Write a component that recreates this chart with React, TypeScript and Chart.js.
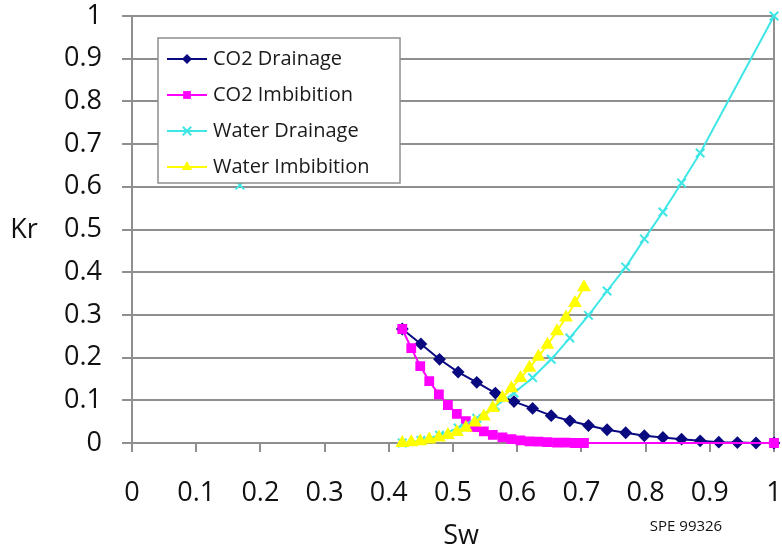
import React, { useEffect, useRef } from 'react';
import { Chart, registerables } from 'chart.js';

Chart.register(...registerables);

// ---- data ----
const drainageSw = [0.421, 0.45, 0.479, 0.508, 0.537, 0.566, 0.595, 0.624, 0.653, 0.682, 0.711, 0.74, 0.769, 0.798, 0.827, 0.856, 0.885, 0.914, 0.943, 0.972, 1.0];
const co2DrainageKr = [0.267, 0.232, 0.196, 0.166, 0.142, 0.117, 0.097, 0.081, 0.064, 0.052, 0.041, 0.031, 0.024, 0.017, 0.013, 0.009, 0.005, 0.002, 0.001, 0.0, 0.0];

const waterDrainageSw = [0.421, 0.45, 0.479, 0.508, 0.537, 0.566, 0.595, 0.624, 0.653, 0.682, 0.711, 0.74, 0.769, 0.798, 0.827, 0.856, 0.885, 1.0];
const waterDrainageKr = [0.0, 0.006, 0.018, 0.035, 0.058, 0.086, 0.117, 0.153, 0.196, 0.246, 0.299, 0.356, 0.412, 0.478, 0.541, 0.609, 0.679, 1.0];

const imbibitionSw = [0.421, 0.435, 0.449, 0.463, 0.478, 0.492, 0.506, 0.52, 0.534, 0.548, 0.562, 0.577, 0.591, 0.605, 0.619, 0.633, 0.647, 0.662, 0.676, 0.69, 0.704];
const co2ImbibitionKr = [0.267, 0.222, 0.18, 0.145, 0.114, 0.089, 0.068, 0.051, 0.037, 0.027, 0.019, 0.013, 0.009, 0.006, 0.004, 0.003, 0.002, 0.001, 0.001, 0.0, 0.0];
const co2ImbibitionEndSw = [1.0];
const co2ImbibitionEndKr = [0.0];
const waterImbibitionKr = [0.0, 0.002, 0.004, 0.008, 0.013, 0.019, 0.026, 0.036, 0.048, 0.062, 0.082, 0.106, 0.128, 0.152, 0.176, 0.202, 0.23, 0.262, 0.294, 0.328, 0.365];

const strayWaterSw = [0.168];
const strayWaterKr = [0.604];

const seriesLabels = ['CO2 Drainage', 'CO2 Imbibition', 'Water Drainage', 'Water Imbibition'];
const xTitle = 'Sw';
const yTitle = 'Kr';
const sourceNote = 'SPE 99326';

// ---- styles ----
const FONT = "'Open Sans', sans-serif";
const NAVY = '#0a0a80';
const MAGENTA = '#ff00ff';
const CYAN = '#3ee6e6';
const YELLOW = '#ffff00';
const GRID = '#8f8f8f';

const pts = (xs: number[], ys: number[]) => xs.map((x, i) => ({ x, y: ys[i] }));
const fmt = (v: any) => String(Number(Number(v).toFixed(1)));

function drawMarker(ctx: CanvasRenderingContext2D, style: string, x: number, y: number, r: number, color: string) {
  ctx.save();
  ctx.fillStyle = color;
  ctx.strokeStyle = color;
  ctx.lineWidth = 2;
  ctx.beginPath();
  if (style === 'rectRot') {
    ctx.moveTo(x, y - r); ctx.lineTo(x + r, y); ctx.lineTo(x, y + r); ctx.lineTo(x - r, y); ctx.closePath(); ctx.fill();
  } else if (style === 'rect') {
    const s = r * Math.SQRT1_2;
    ctx.rect(x - s, y - s, 2 * s, 2 * s); ctx.fill();
  } else if (style === 'triangle') {
    ctx.moveTo(x, y - r); ctx.lineTo(x + r * 0.866, y + r * 0.5); ctx.lineTo(x - r * 0.866, y + r * 0.5); ctx.closePath(); ctx.fill();
  } else if (style === 'crossRot') {
    const d = r * Math.SQRT1_2;
    ctx.moveTo(x - d, y - d); ctx.lineTo(x + d, y + d); ctx.moveTo(x + d, y - d); ctx.lineTo(x - d, y + d); ctx.stroke();
  }
  ctx.restore();
}

const decorPlugin = {
  id: 'decor',
  beforeDatasetsDraw(chart: any) {
    const { ctx, chartArea } = chart;
    ctx.save();
    ctx.strokeStyle = GRID;
    ctx.lineWidth = 2;
    ctx.beginPath();
    ctx.moveTo(chartArea.right, chartArea.top);
    ctx.lineTo(chartArea.right, chartArea.bottom);
    ctx.stroke();
    ctx.restore();
  },
  afterDraw(chart: any) {
    const { ctx } = chart;
    ctx.save();
    ctx.fillStyle = '#111';
    ctx.textAlign = 'center';
    ctx.textBaseline = 'middle';
    ctx.font = `27px ${FONT}`;
    ctx.fillText(yTitle, 24, 230);
    ctx.fillText(xTitle, 461, 536);
    ctx.font = `15px ${FONT}`;
    ctx.fillText(sourceNote, 686, 527);

    // legend
    const lx = 158, ly = 38, lw = 242, lh = 145;
    ctx.fillStyle = '#ffffff';
    ctx.fillRect(lx, ly, lw, lh);
    ctx.strokeStyle = GRID;
    ctx.lineWidth = 1.5;
    ctx.strokeRect(lx, ly, lw, lh);
    const ds = chart.data.datasets.slice(0, 4);
    ds.forEach((d: any, i: number) => {
      const y = ly + 21 + i * 36;
      ctx.strokeStyle = d.borderColor;
      ctx.lineWidth = 2;
      ctx.beginPath();
      ctx.moveTo(lx + 9, y);
      ctx.lineTo(lx + 49, y);
      ctx.stroke();
      drawMarker(ctx, d.pointStyle, lx + 29, y, d.pointRadius, d.pointBackgroundColor);
      ctx.fillStyle = '#1a1a1a';
      ctx.textAlign = 'left';
      ctx.textBaseline = 'middle';
      ctx.font = `20px ${FONT}`;
      ctx.fillText(d.label, lx + 55, y);
    });
    ctx.restore();
  },
};

export default function App() {
  const canvasRef = useRef<HTMLCanvasElement | null>(null);

  useEffect(() => {
    document.body.style.margin = '0';
    const canvas = canvasRef.current;
    if (!canvas) return;
    const common = { showLine: true, borderWidth: 2, clip: false as any, pointBorderWidth: 2 };
    const chart = new Chart(canvas, {
      type: 'scatter',
      data: {
        datasets: [
          {
            ...common,
            label: seriesLabels[0],
            data: pts(drainageSw, co2DrainageKr),
            borderColor: NAVY,
            backgroundColor: NAVY,
            pointBackgroundColor: NAVY,
            pointBorderColor: NAVY,
            pointStyle: 'rectRot',
            pointRadius: 5,
            order: 4,
          },
          {
            ...common,
            label: seriesLabels[1],
            data: [...pts(imbibitionSw, co2ImbibitionKr), ...pts(co2ImbibitionEndSw, co2ImbibitionEndKr)],
            borderColor: MAGENTA,
            backgroundColor: MAGENTA,
            pointBackgroundColor: MAGENTA,
            pointBorderColor: MAGENTA,
            pointStyle: 'rect',
            pointRadius: 5.5,
            order: 3,
          },
          {
            ...common,
            label: seriesLabels[2],
            data: pts(waterDrainageSw, waterDrainageKr),
            borderColor: CYAN,
            backgroundColor: CYAN,
            pointBackgroundColor: CYAN,
            pointBorderColor: CYAN,
            pointStyle: 'crossRot',
            pointRadius: 6,
            order: 2,
          },
          {
            ...common,
            label: seriesLabels[3],
            data: pts(imbibitionSw, waterImbibitionKr),
            borderColor: YELLOW,
            backgroundColor: YELLOW,
            pointBackgroundColor: YELLOW,
            pointBorderColor: YELLOW,
            pointStyle: 'triangle',
            pointRadius: 6,
            order: 1,
          },
          {
            label: 'stray',
            data: pts(strayWaterSw, strayWaterKr),
            showLine: false,
            borderColor: CYAN,
            backgroundColor: CYAN,
            pointBorderColor: CYAN,
            pointStyle: 'crossRot',
            pointRadius: 6,
            pointBorderWidth: 2,
            order: 5,
          },
        ],
      },
      options: {
        animation: false,
        responsive: false,
        maintainAspectRatio: false,
        layout: { padding: { left: 0, right: 7, top: 16, bottom: 0 } },
        plugins: {
          legend: { display: false },
          tooltip: { enabled: false },
        },
        scales: {
          x: {
            type: 'linear',
            min: 0,
            max: 1,
            afterFit: (s: any) => {
              s.height = 109;
              s.paddingLeft = 0; s.paddingRight = 0; s.paddingTop = 0; s.paddingBottom = 0;
            },
            ticks: {
              stepSize: 0.1,
              color: '#111',
              font: { family: FONT, size: 27, lineHeight: 1 },
              padding: 28,
              maxRotation: 0,
              autoSkip: false,
              callback: (v: any) => fmt(v),
            },
            grid: {
              drawOnChartArea: false,
              drawTicks: true,
              tickLength: 9,
              color: GRID,
              lineWidth: 2,
            },
            border: { display: false },
          },
          y: {
            type: 'linear',
            min: 0,
            max: 1,
            afterFit: (s: any) => {
              s.width = 132;
              s.paddingLeft = 0; s.paddingRight = 0; s.paddingTop = 0; s.paddingBottom = 0;
            },
            ticks: {
              stepSize: 0.1,
              color: '#111',
              font: { family: FONT, size: 27, lineHeight: 1 },
              padding: 20,
              autoSkip: false,
              callback: (v: any) => fmt(v),
            },
            grid: {
              drawOnChartArea: true,
              drawTicks: true,
              tickLength: 10,
              color: GRID,
              lineWidth: 2,
            },
            border: { display: true, color: GRID, width: 2 },
          },
        },
      },
      plugins: [decorPlugin],
    } as any);
    return () => chart.destroy();
  }, []);

  return (
    <div style={{ width: 782, height: 552, background: '#fff' }}>
      <canvas ref={canvasRef} width={782} height={552} style={{ display: 'block' }} />
    </div>
  );
}
